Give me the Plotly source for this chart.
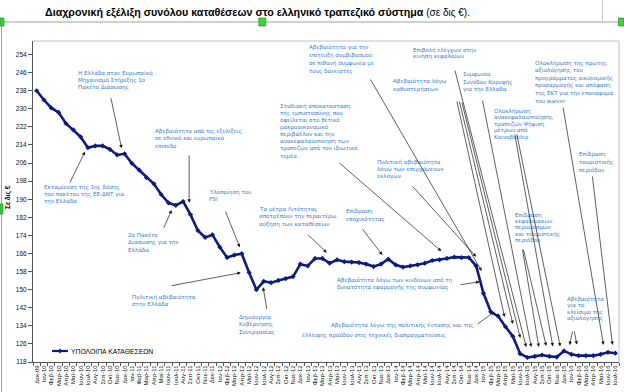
import plotly.graph_objects as go

MONTH_LABELS = [
    "Δεκ-09",
    "Ιαν-10", "Φεβ-10", "Μαρ-10", "Απρ-10", "Μαϊ-10", "Ιουν-10", "Ιουλ-10", "Αυγ-10", "Σεπ-10", "Οκτ-10", "Νοε-10", "Δεκ-10",
    "Ιαν-11", "Φεβ-11", "Μαρ-11", "Απρ-11", "Μαϊ-11", "Ιουν-11", "Ιουλ-11", "Αυγ-11", "Σεπ-11", "Οκτ-11", "Νοε-11", "Δεκ-11",
    "Ιαν-12", "Φεβ-12", "Μαρ-12", "Απρ-12", "Μαϊ-12", "Ιουν-12", "Ιουλ-12", "Αυγ-12", "Σεπ-12", "Οκτ-12", "Νοε-12", "Δεκ-12",
    "Ιαν-13", "Φεβ-13", "Μαρ-13", "Απρ-13", "Μαϊ-13", "Ιουν-13", "Ιουλ-13", "Αυγ-13", "Σεπ-13", "Οκτ-13", "Νοε-13", "Δεκ-13",
    "Ιαν-14", "Φεβ-14", "Μαρ-14", "Απρ-14", "Μαϊ-14", "Ιουν-14", "Ιουλ-14", "Αυγ-14", "Σεπ-14", "Οκτ-14", "Νοε-14", "Δεκ-14",
    "Ιαν-15", "Φεβ-15", "Μαρ-15", "Απρ-15", "Μαϊ-15", "Ιουν-15", "Ιουλ-15", "Αυγ-15", "Σεπ-15", "Οκτ-15", "Νοε-15", "Δεκ-15",
    "Ιαν-16", "Φεβ-16", "Μαρ-16", "Απρ-16", "Μαϊ-16", "Ιουν-16", "Ιουλ-16",
]

DEPOSITS = [
    238.0, 233.9, 230.4, 228.4, 223.5, 220.7, 217.6, 212.8, 213.6, 213.6,
    212.1, 209.6, 210.1, 205.9, 202.9, 199.5, 196.8, 192.1, 188.4, 187.3,
    189.0, 183.2, 176.2, 173.1, 174.3, 168.8, 164.2, 165.3, 165.9, 157.6,
    150.0, 153.7, 153.1, 154.1, 154.9, 155.8, 161.3, 160.5, 163.8, 163.8,
    161.7, 163.2, 162.4, 162.2, 162.0, 161.3, 160.2, 161.3, 163.5, 161.0,
    160.0, 160.5, 161.0, 161.7, 162.9, 163.2, 163.8, 164.4, 164.2, 164.2,
    160.5, 148.4, 140.2, 138.3, 133.6, 129.4, 121.7, 120.0, 120.5, 121.1,
    120.5, 120.2, 122.9, 121.4, 120.8, 120.8, 120.8, 121.4, 122.3, 121.9,
]

Y_TICKS = [118, 126, 134, 142, 150, 158, 166, 174, 182, 190, 198, 206, 214, 222, 230, 238, 246, 254]

SERIES_NAME = "ΥΠΟΛΟΙΠΑ ΚΑΤΑΘΕΣΕΩΝ"
TITLE_BOLD = "Διαχρονική εξέλιξη συνόλου καταθέσεων στο ελληνικό τραπεζικό σύστημα"
TITLE_REST = " (σε δις €)."
Y_TITLE = "Σε δις €"

# notes: (left px, first-line px, line step px, lines)
NOTES = [
    (76.7, 73.0, 7.0, ["Η Ελλάδα στον Ευρωπαϊκό", "Μηχανισμό Στήριξης 1ο", "Πακέτο Διάσωσης"]),
    (154.3, 131.0, 7.5, ["Αβεβαιότητα από τις εξελίξεις", "σε εθνικό και ευρωπαϊκό", "επίπεδο"]),
    (42.7, 187.3, 6.9, ["Εκταμίευση της 1ης δόσης", "του πακέτου της ΕΕ-ΔΝΤ για", "την Ελλάδα"]),
    (127.3, 235.3, 7.4, ["2ο Πακέτο", "Διάσωσης για την", "Ελλάδα"]),
    (208.3, 192.0, 7.0, ["Υλοποίηση του", "PSI"]),
    (130.7, 297.3, 7.2, ["Πολιτική αβεβαιότητα", "στην Ελλάδα"]),
    (238.3, 317.3, 7.5, ["Δημιουργία", "Κυβέρνησης", "Συνεργασίας"]),
    (257.7, 209.0, 7.6, ["Τα μέτρα Λιτότητας", "αποτρέπουν την περαιτέρω", "αύξηση των καταθέσεων"]),
    (345.0, 211.0, 8.8, ["Επίδραση", "εποχικότητας"]),
    (279.0, 106.0, 7.15, ["Σταδιακή αποκατάσταση", "της εμπιστοσύνης που", "οφείλεται στο θετικό",
                          "μακροοικονομικό", "περιβάλλον και την", "ανακεφαλαιοποίηση των",
                          "τραπεζών από τον ιδιωτικό", "τομέα"]),
    (308.3, 47.0, 8.0, ["Αβεβαιότητα για την", "επίτευξη συμβιβασμού", "σε πιθανή συμφωνία με", "τους δανειστές"]),
    (392.7, 81.7, 7.3, ["Αβεβαιότητα λόγω", "καθυστερήσεων"]),
    (412.7, 50.0, 6.8, ["Επιβολή ελέγχων στην", "κίνηση κεφαλαίων"]),
    (462.7, 74.3, 7.8, ["Συμφωνία", "Συνόδου Κορυφής", "για την Ελλάδα"]),
    (493.3, 111.0, 6.6, ["Ολοκλήρωση", "ανακεφαλαιοποίησης", "τραπεζών Ψήφιση", "μέτρων από", "Κοινοβούλιο"]),
    (534.0, 63.3, 7.5, ["Ολοκλήρωση της πρώτης", "αξιολόγησης του", "προγράμματος οικονομικής",
                        "προσαρμογής και απόφαση", "της ΕΚΤ για την επαναφορά", "του waiver"]),
    (578.3, 154.0, 8.0, ["Επίδραση", "τουριστικής", "περιόδου"]),
    (514.3, 215.0, 6.4, ["Επίδραση", "κεφαλαιακών", "περιορισμών", "και τουριστικής", "περιόδου"]),
    (566.0, 299.3, 6.4, ["Αβεβαιότητα", "για το", "κλείσιμο της", "αξιολόγησης"]),
    (376.5, 162.0, 7.3, ["Πολιτική αβεβαιότητα", "λόγω των επερχόμενων", "εκλογών"]),
    (336.0, 280.7, 6.8, ["Αβεβαιότητα λόγω των κινδύνων από τη", "δυνατότητα εφαρμογής της συμφωνίας"]),
    (330.7, 325.0, 7.0, ["Αβεβαιότητα λόγω της πολιτικής έντασης και της"]),
    (301.7, 335.0, 7.0, ["έλλειψης προόδου στις τεχνικές διαπραγματεύσεις"]),
]

# arrows: ((tail px), (head px))
ARROWS = [
    ((110.7, 96.7), (121.7, 148.3)),
    ((189.3, 154.0), (189.3, 202.7)),
    ((69.3, 184.0), (85.0, 151.7)),
    ((163.3, 229.3), (171.7, 210.0)),
    ((225.0, 210.0), (240.0, 247.3)),
    ((170.0, 286.0), (241.0, 272.7)),
    ((267.3, 310.7), (263.3, 287.3)),
    ((306.7, 233.3), (327.0, 252.7)),
    ((361.7, 227.7), (382.7, 255.0)),
    ((338.3, 161.7), (441.7, 251.2)),
    ((370.0, 78.0), (482.0, 271.0)),
    ((411.7, 185.0), (476.5, 256.7)),
    ((459.3, 285.0), (480.0, 281.7)),
    ((476.7, 325.0), (495.0, 311.7)),
    ((457.0, 100.0), (505.0, 317.0)),
    ((459.5, 100.0), (513.3, 324.0)),
    ((462.0, 101.0), (520.7, 338.0)),
    ((455.0, 69.0), (526.7, 347.0)),
    ((482.7, 99.3), (531.7, 347.0)),
    ((522.7, 248.0), (539.3, 347.0)),
    ((523.5, 248.0), (546.7, 346.0)),
    ((515.0, 133.0), (553.3, 346.5)),
    ((517.0, 133.0), (560.7, 346.5)),
    ((573.3, 330.0), (570.0, 345.0)),
    ((574.5, 330.0), (577.3, 344.5)),
    ((563.3, 106.0), (604.0, 345.0)),
    ((592.7, 175.0), (613.0, 345.0)),
]

W, H = 624, 392
PL, PR, PT, PB = 33.0, 619.5, 41.0, 362.0
NAVY = "#0c1c7c"
NOTE_BLUE = "#3b7bc8"
NOTE_FONT = dict(family="DejaVu Sans", size=5.6, color=NOTE_BLUE)
TICK_FONT = dict(family="Liberation Sans, Arial", size=6.5, color="#111111")


def paper(px, py):
    return (px - PL) / (PR - PL), (PB - py) / (PB - PT)


fig = go.Figure()
fig.add_trace(go.Scatter(
    x=MONTH_LABELS, y=DEPOSITS, name=SERIES_NAME, mode="lines+markers",
    line=dict(color=NAVY, width=2.6),
    marker=dict(symbol="diamond", size=4, color=NAVY),
    showlegend=False,
))

anns = []
for x0, y0, step, lines in NOTES:
    for k, t in enumerate(lines):
        xp, yp = paper(x0, y0 + k * step)
        anns.append(dict(xref="paper", yref="paper", x=xp, y=yp, text=t, showarrow=False,
                         xanchor="left", yanchor="middle", font=NOTE_FONT, borderpad=0))

for (tx, ty), (hx, hy) in ARROWS:
    xp, yp = paper(hx, hy)
    anns.append(dict(xref="paper", yref="paper", x=xp, y=yp, ax=tx - hx, ay=ty - hy,
                     axref="pixel", ayref="pixel", text="", showarrow=True,
                     arrowhead=2, arrowsize=1.0, arrowwidth=0.7, arrowcolor="#1a1a1a", standoff=0))

# title
tx, ty = paper(43, 13)
anns.append(dict(xref="paper", yref="paper", x=tx, y=ty, xanchor="left", yanchor="middle",
                 text="<b>" + TITLE_BOLD + "</b><span style='font-size:10px'>" + TITLE_REST + "</span>",
                 showarrow=False,
                 font=dict(family="Liberation Sans, Arial", size=10.7, color="#000000")))
# y title
yx, yy = paper(8, 197)
anns.append(dict(xref="paper", yref="paper", x=yx, y=yy, xanchor="center", yanchor="middle",
                 text="<b>" + Y_TITLE + "</b>", textangle=-90, showarrow=False,
                 font=dict(family="Liberation Sans, Arial", size=6.5, color="#000000")))
# legend text
lx, ly = paper(69, 351)
anns.append(dict(xref="paper", yref="paper", x=lx, y=ly, xanchor="left", yanchor="middle",
                 text=SERIES_NAME, showarrow=False,
                 font=dict(family="Liberation Sans, Arial", size=6.8, color="#000000")))

shapes = []
# plot-area border (top, right)
shapes.append(dict(type="line", xref="paper", yref="paper", x0=0, y0=1, x1=1, y1=1, line=dict(color="#c0c0c0", width=1)))
shapes.append(dict(type="line", xref="paper", yref="paper", x0=1, y0=0, x1=1, y1=1, line=dict(color="#c0c0c0", width=1)))
# legend line + marker
a0 = paper(52, 351); a1 = paper(68, 351)
shapes.append(dict(type="line", xref="paper", yref="paper", x0=a0[0], y0=a0[1], x1=a1[0], y1=a1[1], line=dict(color=NAVY, width=2.2)))
c = paper(60, 351)
d = 2.2 / (PR - PL); e = 2.2 / (PB - PT)
shapes.append(dict(type="path", xref="paper", yref="paper",
                   path=f"M {c[0]-d} {c[1]} L {c[0]} {c[1]+e} L {c[0]+d} {c[1]} L {c[0]} {c[1]-e} Z",
                   fillcolor=NAVY, line=dict(color=NAVY, width=0.5)))
# sheet frame lines
f0 = paper(0, 22); f1 = paper(624, 22)
shapes.append(dict(type="line", xref="paper", yref="paper", x0=f0[0], y0=f0[1], x1=f1[0], y1=f1[1], line=dict(color="#a0a0a0", width=1)))
g0 = paper(1.5, 22); g1 = paper(1.5, 392)
shapes.append(dict(type="line", xref="paper", yref="paper", x0=g0[0], y0=g0[1], x1=g1[0], y1=g1[1], line=dict(color="#a0a0a0", width=1)))
h0 = paper(603, 0); h1 = paper(603, 22)
shapes.append(dict(type="line", xref="paper", yref="paper", x0=h0[0], y0=h0[1], x1=h1[0], y1=h1[1], line=dict(color="#c8c8c8", width=1)))
# selection handles
for (x0, y0, x1, y1) in [(0, 18, 4, 26), (259, 18, 266, 26), (619, 18, 624, 26), (0, 204, 3, 214)]:
    p0 = paper(x0, y0); p1 = paper(x1, y1)
    shapes.append(dict(type="rect", xref="paper", yref="paper", x0=p0[0], y0=p0[1], x1=p1[0], y1=p1[1],
                       fillcolor="#39d439", line=dict(color="#1f7a1f", width=0.6)))

fig.update_layout(
    width=W, height=H,
    margin=dict(l=PL, r=W - PR, t=PT, b=H - PB, pad=0, autoexpand=False),
    paper_bgcolor="white", plot_bgcolor="white",
    showlegend=False,
    annotations=anns, shapes=shapes,
    xaxis=dict(type="category", range=[-0.5, len(MONTH_LABELS) - 0.5], tickson="boundaries",
               ticks="outside", ticklen=3, tickcolor="#555555", tickwidth=1,
               showline=True, linecolor="#555555", linewidth=1, showgrid=False, zeroline=False,
               tickangle=-90, tickfont=dict(family="Liberation Sans, Arial", size=6, color="#111111"),
               automargin=False),
    yaxis=dict(range=[118, 260], tickvals=Y_TICKS, ticks="outside", ticklen=4, tickcolor="#555555",
               showline=True, linecolor="#555555", linewidth=1, showgrid=False, zeroline=False,
               tickfont=TICK_FONT, automargin=False),
)

fig.write_html("out.html", config={"displayModeBar": False},
               post_script="document.body.style.margin='0px';document.body.style.overflow='hidden';")
